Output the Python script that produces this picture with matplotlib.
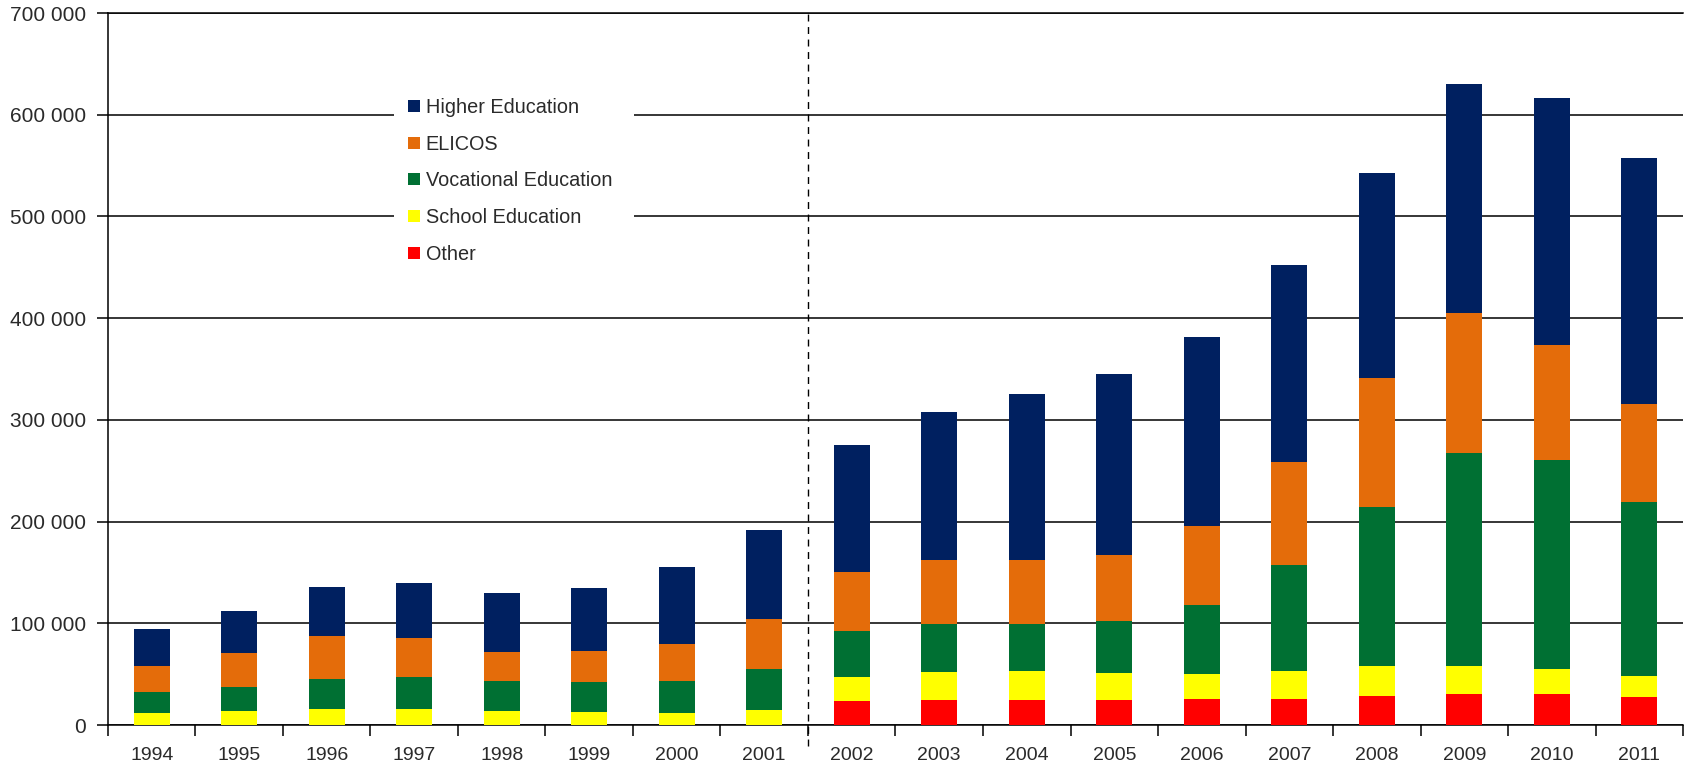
import numpy as np
import matplotlib
matplotlib.use("Agg")
import matplotlib.pyplot as plt
from matplotlib.lines import Line2D
from matplotlib.ticker import FuncFormatter, FixedLocator

plt.rcParams['font.family'] = ['Liberation Sans', 'DejaVu Sans']

# Data (students, per year)
years = ['1994', '1995', '1996', '1997', '1998', '1999', '2000', '2001', '2002',
         '2003', '2004', '2005', '2006', '2007', '2008', '2009', '2010', '2011']
other = [0, 0, 0, 0, 0, 0, 0, 0, 23500, 24500, 24500, 24500, 25500, 26000,
         29000, 30500, 30500, 27500]
school = [12000, 13500, 15500, 16000, 13500, 12500, 12000, 14500, 23500, 28000,
          28500, 26500, 24500, 27000, 29000, 27500, 24500, 21000]
vocational = [20000, 23500, 29500, 31500, 30000, 30000, 31500, 40500, 45000, 46500,
              46000, 51500, 68000, 104000, 156000, 209000, 206000, 171000]
elicos = [26500, 34000, 43000, 38500, 28500, 30000, 36500, 49500, 58500, 63000,
          63000, 65000, 78000, 102000, 127000, 138000, 113000, 96500]
higher = [35500, 41000, 48000, 53500, 58000, 62000, 75000, 87000, 124500, 146000,
          163000, 178000, 185000, 193000, 202000, 225000, 242000, 241000]

series = [
    ('Other', other, '#FF0000'),
    ('School Education', school, '#FFFF00'),
    ('Vocational Education', vocational, '#007033'),
    ('ELICOS', elicos, '#E46C0A'),
    ('Higher Education', higher, '#002060'),
]

fig = plt.figure(figsize=(16.92, 7.66), dpi=100)
ax = fig.add_axes([0.0638, 0.0535, 0.9309, 0.9295])

x = np.arange(len(years))
bottom = np.zeros(len(years))
for name, vals, col in series:
    ax.bar(x, vals, width=0.41, bottom=bottom, color=col, zorder=3)
    bottom += np.array(vals)

ax.set_xlim(-0.5, len(years) - 0.5)
ax.set_ylim(0, 700000)
ax.set_yticks(np.arange(0, 700001, 100000))
ax.yaxis.set_major_formatter(FuncFormatter(lambda v, p: f"{int(v):,}".replace(",", " ")))
ax.yaxis.grid(True, color='black', linewidth=1.1, zorder=1)

# category boundaries as tick marks, labels at the centres
ax.xaxis.set_major_locator(FixedLocator(np.arange(-0.5, len(years), 1.0)))
ax.xaxis.set_major_formatter(FuncFormatter(lambda v, p: ''))
ax.xaxis.set_minor_locator(FixedLocator(x))
ax.set_xticklabels(years, minor=True)
ax.tick_params(axis='x', which='major', length=8, width=1.1, direction='out')
ax.tick_params(axis='x', which='minor', length=0, pad=16, labelsize=14, labelcolor='#2a2a2a')
ax.tick_params(axis='y', length=8, width=1.1, labelsize=15, labelcolor='#2a2a2a', pad=8)

ax.spines['right'].set_visible(False)
for s in ['left', 'bottom', 'top']:
    ax.spines[s].set_linewidth(1.1)

# dashed separator between 2001 and 2002
ax.plot([7.5, 7.5], [-0.03, 1], color='black', linestyle=(0, (5, 4)), linewidth=1,
        transform=ax.get_xaxis_transform(), clip_on=False, zorder=4)

handles = [Line2D([], [], marker='s', linestyle='none', markersize=8, color=col,
                  markeredgewidth=0) for name, vals, col in series[::-1]]
labels = [name for name, vals, col in series[::-1]]
leg = ax.legend(handles, labels, loc='upper left', bbox_to_anchor=(0.1816, 0.9006, 0.1524, 0),
                mode='expand', frameon=True, fontsize=14.3, labelspacing=0.9, handlelength=0.6,
                handletextpad=0.3, borderpad=0.7, borderaxespad=0)
leg.get_frame().set_edgecolor('none')
leg.get_frame().set_facecolor('white')
leg.get_frame().set_alpha(1)
leg.get_frame().set_boxstyle('square', pad=0)
for t in leg.get_texts():
    t.set_color('#2a2a2a')
leg.set_zorder(5)

fig.savefig('out.png', dpi=100)
